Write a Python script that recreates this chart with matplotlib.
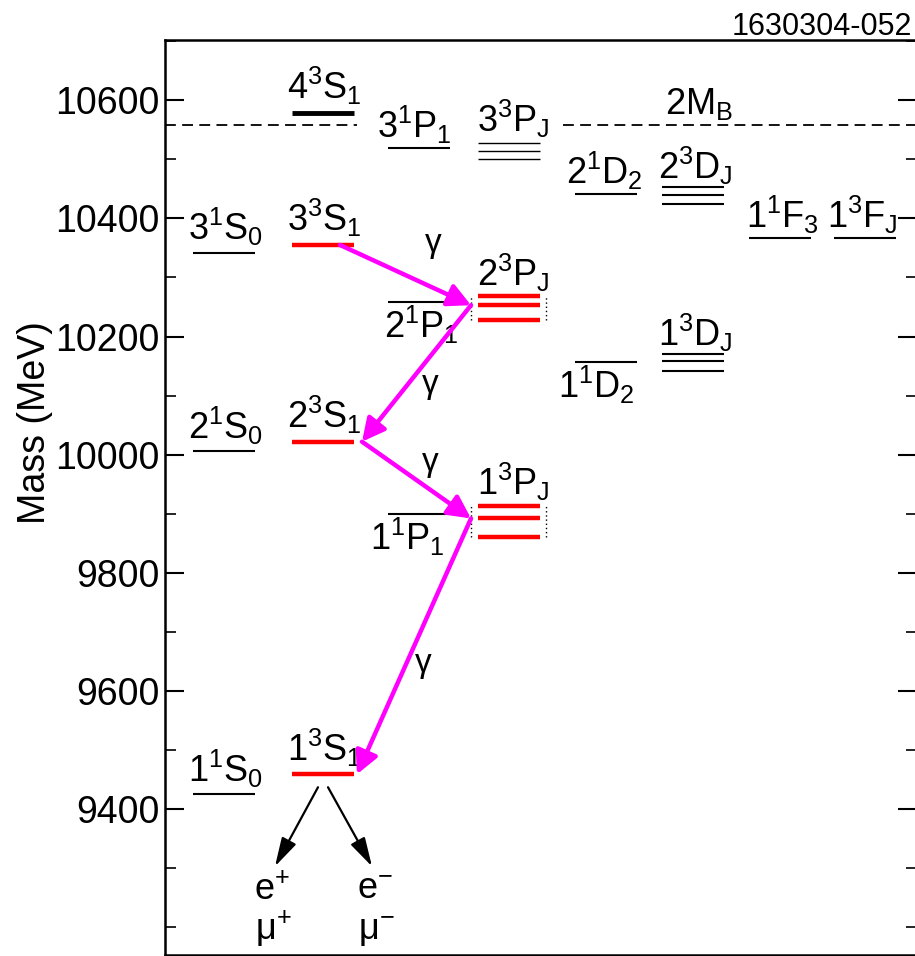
import matplotlib
matplotlib.use("Agg")
import matplotlib.pyplot as plt
from matplotlib.ticker import MultipleLocator

plt.rcParams["font.family"] = ["Liberation Sans", "DejaVu Sans"]
plt.rcParams["mathtext.fontset"] = "custom"
plt.rcParams["mathtext.rm"] = "Liberation Sans"
plt.rcParams["mathtext.it"] = "Liberation Sans:italic"
plt.rcParams["mathtext.bf"] = "Liberation Sans:bold"

# ---- bottomonium level masses (MeV) ----
s_singlet = [9425, 10006, 10342]
s_triplet = [9459, 10022, 10355, 10579]
p_singlet = [9899, 10258, 10520]
p_triplet = [[9861, 9892, 9913], [10228, 10253, 10268], [10501, 10514, 10528]]
d_singlet = [10157, 10442]
d_triplet = [[10142, 10159, 10170], [10425, 10439, 10453]]
f_singlet = [10367]
f_triplet = [10367]
two_mb = 10558

s_singlet_labels = [r"$1^1\mathrm{S}_0$", r"$2^1\mathrm{S}_0$", r"$3^1\mathrm{S}_0$"]
s_triplet_labels = [r"$1^3\mathrm{S}_1$", r"$2^3\mathrm{S}_1$", r"$3^3\mathrm{S}_1$", r"$4^3\mathrm{S}_1$"]
p_singlet_labels = [r"$1^1\mathrm{P}_1$", r"$2^1\mathrm{P}_1$", r"$3^1\mathrm{P}_1$"]
p_triplet_labels = [r"$1^3\mathrm{P}_\mathrm{J}$", r"$2^3\mathrm{P}_\mathrm{J}$", r"$3^3\mathrm{P}_\mathrm{J}$"]
d_singlet_labels = [r"$1^1\mathrm{D}_2$", r"$2^1\mathrm{D}_2$"]
d_triplet_labels = [r"$1^3\mathrm{D}_\mathrm{J}$", r"$2^3\mathrm{D}_\mathrm{J}$"]
f_singlet_labels = [r"$1^1\mathrm{F}_3$"]
f_triplet_labels = [r"$1^3\mathrm{F}_\mathrm{J}$"]
threshold_label = r"$2\mathrm{M}_\mathrm{B}$"

y_ticks = [9400, 9600, 9800, 10000, 10200, 10400, 10600]

# ---- figure / axes ----
W, H = 915, 956
fig = plt.figure(figsize=(W / 100, H / 100), dpi=100)
ax = fig.add_axes([165 / W, 1 / H, 752 / W, 915 / H])
ax.set_xlim(0, 752)
ax.set_ylim(9153, 10702)
ax.set_xticks([])
ax.yaxis.set_major_locator(MultipleLocator(200))
ax.yaxis.set_minor_locator(MultipleLocator(100))
ax.set_yticks(y_ticks)
ax.tick_params(axis="y", which="major", direction="in", length=14, width=1.5,
               labelsize=27, pad=4, right=True)
ax.tick_params(axis="y", which="minor", direction="in", length=8, width=1.2, right=True)
for sp in ax.spines.values():
    sp.set_linewidth(1.8)
fig.text(35 / W, 1 - 423 / H, "Mass (MeV)", fontsize=27, rotation=90,
         ha="center", va="center")

# column centres (x) and half width of the level bars
col = {"S1": 59, "S3": 158, "P1": 254, "P3": 344, "D1": 441, "D3": 528, "F1": 615, "F3": 700}
hw = 31
LBL = 26
RED = "#ff0000"


def level(xc, m, color="black", lw=1.5):
    ax.hlines(m, xc - hw, xc + hw, colors=color, linewidth=lw, capstyle="butt")


def label_above(xc, m, text, dx=0, gap=4):
    ax.annotate(text, (xc + dx, m), xytext=(0, gap), textcoords="offset points",
                ha="center", va="bottom", fontsize=LBL)


def label_below(xc, m, text, dx=0, gap=4):
    ax.annotate(text, (xc + dx, m), xytext=(0, -gap), textcoords="offset points",
                ha="center", va="top", fontsize=LBL)


# S waves
for m, t in zip(s_singlet, s_singlet_labels):
    level(col["S1"], m)
    label_above(col["S1"], m, t, dx=2, gap=3)
for i, (m, t) in enumerate(zip(s_triplet, s_triplet_labels)):
    if i < 3:
        level(col["S3"], m, RED, 3.2)
    else:
        level(col["S3"], m, "black", 3.5)
    label_above(col["S3"], m, t, dx=1, gap=4)

# P waves
for i, (m, t) in enumerate(zip(p_singlet, p_singlet_labels)):
    level(col["P1"], m)
    if i < 2:
        label_below(col["P1"], m, t, dx=[-12, 2][i], gap=1)
    else:
        label_above(col["P1"], m, t, dx=-5, gap=1)
for i, (ms, t) in enumerate(zip(p_triplet, p_triplet_labels)):
    if i < 2:
        for m in ms:
            level(col["P3"], m, RED, 3.2)
        for xd in (col["P3"] - hw - 7, col["P3"] + hw + 6):
            ax.vlines(xd, min(ms), max(ms), colors="black", linewidth=1.0,
                      linestyles=(0, (1, 2)))
    else:
        for m in ms:
            level(col["P3"], m, "black", 1.0)
    label_above(col["P3"], max(ms), t, dx=4, gap=2)

# D waves
for i, (m, t) in enumerate(zip(d_singlet, d_singlet_labels)):
    level(col["D1"], m)
    if i == 0:
        label_below(col["D1"], m, t, dx=-10, gap=1)
    else:
        label_above(col["D1"], m, t, dx=-2, gap=1)
for ms, t in zip(d_triplet, d_triplet_labels):
    for m in ms:
        level(col["D3"], m, "black", 1.5)
    label_above(col["D3"], max(ms), t, dx=2, gap=0)

# F waves
for m, t in zip(f_singlet, f_singlet_labels):
    level(col["F1"], m)
    label_above(col["F1"], m, t, dx=2, gap=1)
for m, t in zip(f_triplet, f_triplet_labels):
    level(col["F3"], m)
    label_above(col["F3"], m, t, dx=-3, gap=1)

# open-bottom threshold (broken where the n=3 P labels sit)
for x0, x1 in [(0, 192), (398, 752)]:
    ax.hlines(two_mb, x0, x1, colors="black", linewidth=1.3, linestyles=(0, (6, 3.5)))
ax.annotate(threshold_label, (534, two_mb), xytext=(0, 2), textcoords="offset points",
            ha="center", va="bottom", fontsize=LBL)

# radiative cascade 3S -> 2P -> 2S -> 1P -> 1S
P2_mid = p_triplet[1][1]
P1_mid = p_triplet[0][1]
x_pl = col["P3"] - hw - 7
cascade = [
    ((175, s_triplet[2]), (x_pl, P2_mid)),
    ((x_pl, P2_mid), (197, s_triplet[1])),
    ((197, s_triplet[1]), (x_pl, P1_mid)),
    ((x_pl, P1_mid), (192, s_triplet[0])),
]
for start, end in cascade:
    ax.annotate("", xy=end, xytext=start,
                arrowprops=dict(arrowstyle="-|>,head_length=0.55,head_width=0.28",
                                color="#ff00ff", lw=3.2, mutation_scale=25,
                                shrinkA=0, shrinkB=0))

gamma_pos = [(268, 10358), (265, 10118), (265, 9987), (258, 9647)]
for gx, gy in gamma_pos:
    ax.text(gx, gy, "γ", fontsize=24, ha="center", va="center")

# dilepton decays of the 1S
for (x0, x1) in [(153, 110), (163, 207)]:
    ax.annotate("", xy=(x1, 9303), xytext=(x0, 9437),
                arrowprops=dict(arrowstyle="-|>,head_length=0.8,head_width=0.22",
                                color="black", lw=1.6, mutation_scale=22,
                                shrinkA=0, shrinkB=0))
ax.text(107, 9247, r"$\mathrm{e}^{+}$", fontsize=26, ha="center", va="baseline")
ax.text(108, 9179, r"$\mathrm{μ}^{+}$", fontsize=26, ha="center", va="baseline")
ax.text(210, 9247, r"$\mathrm{e}^{-}$", fontsize=26, ha="center", va="baseline")
ax.text(211, 9179, r"$\mathrm{μ}^{-}$", fontsize=26, ha="center", va="baseline")

fig.text(912 / W, 1 - 35 / H, "1630304-052", fontsize=22, ha="right", va="baseline")

fig.savefig("out.png", dpi=100)
